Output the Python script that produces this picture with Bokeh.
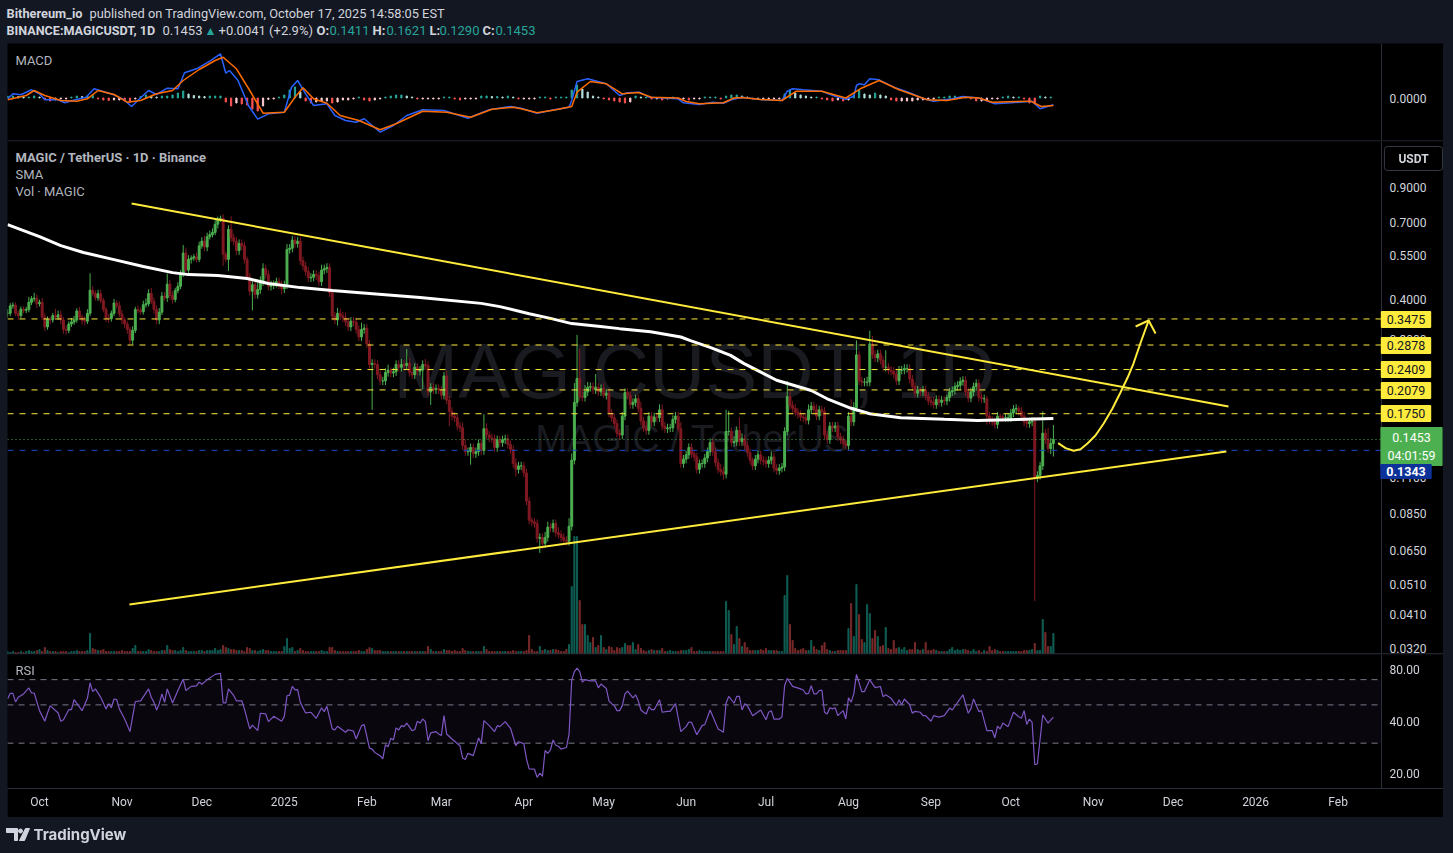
from bokeh.embed import file_html
from bokeh.resources import INLINE
from bokeh.plotting import figure
from bokeh.layouts import column
from bokeh.models import (Range1d, LinearScale, LinearAxis, Span, Label, BoxAnnotation, FixedTicker,
                          PrintfTickFormatter, ColumnDataSource)

# ---- candle closes, one per day, first value is 19 Sep 2024 (day -12; day 0 = 1 Oct 2024)
closes = [
 .362,.382,.384,.362,.356,.373,.370,.372,.392,.402,
 .404,.388,.392,.352,.328,.347,.345,.356,.352,.358,
 .345,.322,.320,.335,.340,.345,.368,.352,.344,.342,
 .362,.428,.418,.405,.417,.397,.372,.350,.348,.362,
 .390,.383,.360,.345,.335,.322,.298,.320,.372,.370,
 .366,.385,.388,.418,.395,.372,.345,.365,.410,.405,
 .447,.412,.400,.427,.440,.480,.560,.495,.535,.540,
 .545,.535,.590,.610,.585,.630,.640,.650,.690,.715,
 .720,.555,.535,.665,.625,.610,.570,.600,.590,.535,
 .470,.425,.445,.415,.430,.455,.500,.480,.440,.445,
 .450,.455,.445,.432,.445,.575,.580,.615,.600,.610,
 .530,.510,.490,.468,.470,.480,.475,.455,.495,.500,
 .505,.420,.355,.345,.362,.355,.350,.340,.328,.342,
 .340,.322,.305,.322,.325,.290,.250,.252,.250,.232,
 .222,.222,.236,.240,.235,.237,.250,.245,.250,.248,
 .252,.236,.232,.245,.238,.240,.250,.248,.205,.212,
 .208,.210,.208,.200,.230,.193,.178,.172,.170,.160,
 .158,.139,.133,.133,.137,.131,.133,.141,.134,.157,
 .150,.147,.146,.137,.145,.142,.145,.146,.140,.135,
 .122,.117,.120,.120,.114,.093,.081,.080,.079,.071,
 .0715,.0685,.0715,.077,.0765,.079,.074,.073,.0715,.070,
 .0695,.0775,.125,.190,.226,.198,.197,.205,.212,.213,
 .208,.212,.205,.210,.200,.203,.176,.170,.163,.152,
 .150,.172,.204,.200,.187,.190,.195,.182,.166,.158,
 .155,.172,.165,.171,.170,.180,.160,.157,.158,.158,
 .168,.172,.157,.122,.126,.130,.137,.131,.128,.117,
 .122,.122,.127,.133,.142,.133,.123,.117,.115,.113,
 .154,.154,.142,.143,.155,.143,.146,.139,.132,.125,
 .120,.126,.130,.125,.124,.122,.125,.128,.118,.116,
 .118,.119,.154,.198,.186,.182,.177,.174,.171,.170,
 .167,.180,.185,.180,.172,.180,.178,.150,.145,.160,
 .158,.160,.148,.145,.141,.139,.172,.165,.183,.268,
 .222,.220,.220,.220,.290,.268,.262,.270,.258,.245,
 .245,.240,.238,.233,.222,.240,.240,.243,.243,.225,
 .213,.203,.208,.205,.208,.199,.192,.190,.187,.194,
 .190,.193,.192,.197,.205,.207,.213,.215,.221,.223,
 .205,.196,.205,.213,.218,.197,.195,.195,.172,.167,
 .165,.162,.172,.171,.170,.170,.170,.176,.181,.182,
 .178,.172,.165,.163,.165,.166,.110,.112,.120,.152,
 .145,.136,.1411,.1453]
# upper wick above the body, per cent, read per candle (20 per row)
wick_up = [
 3,2,2,2,2,2,2,2,4,2,4,3,2,3,3,2,2,2,5,3,
 3,2,3,2,3,3,2,3,2,3,3,13,3,2,3,3,2,2,3,2,
 3,2,3,3,2,2,2,3,2,3,2,3,4,3,4,3,3,3,3,3,
 8,3,3,2,3,3,6,4,3,2,2,3,3,3,4,3,3,3,3,2,
 2,3,2,3,10,3,3,3,3,3,2,3,3,3,5,4,4,3,3,3,
 2,3,3,3,3,4,3,3,3,3,3,3,3,3,3,3,3,3,4,3,
 3,3,3,3,4,3,3,4,3,3,3,3,3,5,3,3,3,3,3,3,
 3,3,3,4,2,3,3,3,4,3,11,4,3,3,3,3,3,4,3,3,
 3,3,3,3,3,4,3,3,3,3,3,4,5,3,3,3,3,3,3,11,
 4,3,3,3,3,3,3,3,3,3,3,4,3,3,3,3,3,2,3,3,
 3,3,4,4,3,3,3,4,3,3,3,6,5,15,37,24,6,5,4,3,
 3,10,3,3,4,3,3,3,3,3,3,3,3,3,3,3,3,3,5,3,
 5,3,3,3,3,4,4,3,3,3,3,3,3,5,3,3,3,3,3,3,
 3,3,3,3,3,3,3,3,4,4,17,16,3,4,3,10,4,3,3,3,
 2,3,3,3,3,3,3,4,3,3,3,3,3,12,4,3,3,3,3,3,
 3,4,3,3,4,3,3,3,3,3,3,3,3,3,3,3,3,13,4,11,
 3,3,3,4,10,6,3,3,3,3,13,3,3,3,3,3,3,3,3,3,
 3,3,3,2,3,3,3,3,4,3,3,3,3,2,3,3,3,3,3,3,
 3,3,3,3,3,3,3,3,2,3,3,3,3,2,2,3,3,3,3,3,
 2,3,3,3,3,3,3,3,3,17,3,9,4,11]
# lower wick below the body, per cent, read per candle (20 per row)
wick_dn = [
 3,2,2,2,3,2,2,2,2,2,2,3,2,2,3,2,3,2,2,2,
 3,3,3,2,2,2,2,2,3,3,2,2,2,2,2,2,2,3,3,2,
 2,2,2,3,3,3,3,3,2,2,2,2,2,2,2,3,3,3,2,2,
 3,3,3,2,2,2,2,2,3,3,2,2,2,2,3,3,2,2,2,3,
 2,8,2,8,3,3,3,3,3,3,2,3,13,3,3,3,3,3,3,3,
 3,3,3,4,3,3,3,3,3,3,3,3,3,3,3,3,3,3,3,3,
 3,3,3,3,4,3,3,3,3,3,3,3,3,3,3,3,3,28,3,3,
 3,3,3,3,3,3,3,3,3,3,3,3,3,3,3,3,13,3,3,9,
 3,3,3,3,3,3,10,3,3,3,3,3,3,3,9,3,3,3,3,3,
 3,3,3,3,3,3,3,3,3,3,3,5,3,3,3,3,3,3,3,3,
 10,4,3,3,3,3,3,3,3,3,3,3,3,3,3,3,3,3,3,3,
 3,3,3,3,2,3,3,3,3,3,3,3,3,3,3,3,3,3,3,3,
 3,3,3,3,3,3,3,3,3,3,3,3,2,3,3,3,3,3,3,3,
 3,3,3,3,3,3,3,3,3,4,3,3,3,3,3,3,3,3,3,3,
 3,3,3,3,3,3,3,3,3,3,3,3,3,3,3,3,3,3,3,3,
 3,3,3,3,3,3,3,3,3,3,3,3,3,3,3,3,3,3,3,3,
 3,3,3,3,3,3,3,3,3,3,3,3,3,3,3,3,3,3,3,3,
 3,3,3,3,3,3,3,3,3,3,3,3,3,3,3,3,3,3,3,3,
 3,3,3,3,3,3,3,3,6,3,3,3,3,3,3,3,3,3,3,3,
 3,3,3,3,3,3,59,3,3,3,3,3,4,9]
# volume per candle (same order)
volumes = [
 3,2,3,2,2,3,2,3,4,3, 3,4,5,3,7,4,3,3,3,2,
 3,3,3,2,3,3,4,3,3,3, 4,21,6,5,4,4,5,3,3,3,
 3,3,3,4,3,3,3,6,9,3, 3,3,3,5,4,3,3,3,4,4,
 9,5,4,4,3,4,7,4,3,3, 3,3,4,4,3,4,4,4,6,4,
 5,9,7,6,5,5,4,4,4,3, 7,6,4,4,3,4,5,4,4,3,
 3,3,3,3,8,16,6,7,3,4, 6,4,3,3,3,3,3,3,4,3,
 3,7,7,4,3,3,3,3,3,3, 3,3,4,3,3,5,7,6,4,4,
 4,3,3,3,3,3,3,3,3,3, 3,3,3,3,3,3,3,3,8,5,
 3,3,3,3,5,4,4,3,4,3, 3,6,4,3,3,3,3,3,3,8,
 5,3,3,3,3,3,3,3,3,3, 4,3,3,3,3,4,19,5,3,3,
 8,4,5,4,4,5,5,4,3,3, 5,10,68,118,118,54,30,30,19,12,
 17,7,9,19,7,5,8,7,4,7, 6,7,11,9,9,12,5,10,6,4,
 3,4,5,4,4,4,6,3,3,4, 3,3,3,4,4,4,5,7,3,3,
 4,3,3,3,3,3,3,3,3,3, 53,44,20,10,28,16,8,12,7,4,
 4,4,4,5,4,6,4,4,4,4, 3,3,59,79,30,14,6,4,5,6,
 4,4,14,8,5,4,9,12,5,4, 3,3,4,4,4,4,26,51,18,70,
 40,15,12,50,41,16,24,18,8,9, 27,6,5,14,6,7,5,7,4,5,
 5,12,5,4,5,12,4,4,5,4, 3,3,3,3,5,7,4,5,4,5,
 5,4,3,5,3,4,2,4,3,8, 4,5,4,3,3,3,3,3,3,3,
 3,3,4,4,4,5,11,4,4,35, 22,8,8,21]

# 200-day SMA
sma_days = [-12,0,8,16.5,28,39,50,56,67,78,86,98,110,124,143,166,173,184,192,200,210.8,218,229.6,241,244.6,252,259.7,264.6,277,290,296,305,312,323.6,340,352.5,381]
sma_vals = [.688,.631,.591,.562,.534,.508,.486,.479,.476,.466,.449,.436,.427,.418,.406,.389,.380,.361,.349,.336,.329,.324,.317,.305,.297,.283,.267,.252,.223,.207,.195,.182,.175,.170,.168,.1666,.169]

# Drawn trend lines and projected arrow
upper_days, upper_vals = [34.6, 446.8], [.8016, .1844]
lower_days, lower_vals = [33.8, 446.0], [.0440, .1332]
arrow_days = [382.8,385.6,388.6,391.2,393.8,396.8,399.9,403.2,406.2,408.9,411.1,413.8,416.8]
arrow_vals = [.1414,.1364,.1338,.1354,.1411,.1495,.1631,.1818,.2040,.2274,.2517,.2930,.3436]
head_days = [411.9, 416.8, 419.4]
head_vals = [.3291, .3436, .3127]
levels = [0.3475, 0.2878, 0.2409, 0.2079, 0.1750]
level_labels = ["0.3475", "0.2878", "0.2409", "0.2079", "0.1750"]
last_price, last_low_line = 0.1453, 0.1343

# MACD
macd_days = [-12,-10,-7,-3,0,2,7,9.5,13.5,17.5,20.5,23.6,28,31.6,34.6,37.6,41,44,48,52,54.5,59,64,68,70,71.4,74.6,78.5,82,86,92,94.7,97,100,103,108,111,115,119,122,128,133,138,144,152,161,169,177,
 181,187,194,199,200,202,206,213,218,221,225.5,229,234,240,242,248,253,257,260,264,271.5,279,281,283,287,294,299,303,306,307,308,310,312,315.5,321,326.5,332.3,336,343,347,353,359,365,373,376,381]
macd_vals = [-.0008,.0042,.0032,.0082,.0042,-.0018,-.0018,-.0048,-.0018,.0008,.0092,.0068,.0032,-.0015,-.0085,-.0008,.0075,.0035,.0098,.0092,.0252,.0292,.0368,.0442,.0248,.0275,.0175,-.0075,-.0212,-.0158,-.0142,.0108,.0175,.0042,-.0075,-.0058,-.0175,-.0225,-.0242,-.0208,-.0342,-.0275,-.0175,-.0118,-.0125,-.0202,-.0118,-.0085,
 -.0102,-.0152,-.0115,-.0092,-.0025,.0165,.0192,.0142,.0025,.0052,.0058,.0008,0,-.0008,-.0048,-.0065,-.0042,-.0052,-.0018,.0008,-.0018,-.0025,.0068,.0092,.0082,.0068,.0018,-.0012,.0018,.0125,.0142,.0132,.0192,.0182,.0108,.0058,-.0008,-.0032,-.0008,.0015,0,-.0058,-.0048,-.0032,-.0108,-.0068]
signal_days = [-12,-5,-2,2,8,14,18,22,28,33,38,44,50,54,60,66,69,74,79,84,92,96,99,103,108,113,120,128,134,144,153,162,170,178,
 181,187,194,200,202,207,213,219,225,230,240,243,248,257,261,264,271,279,284.4,294,303,308.4,315.5,323,333.6,341,348,353,358,372.5,376.4,381]
signal_vals = [-.0018,.0025,.0075,.0025,-.0025,-.0032,-.0008,.0075,.0035,-.0042,-.0025,.0042,.0075,.0175,.0285,.0375,.0408,.0292,.0075,-.0152,-.0142,.0008,.0102,-.0008,-.0052,-.0175,-.0225,-.0318,-.0258,-.0132,-.0142,-.0192,-.0112,-.0092,
 -.0108,-.0148,-.0118,-.0085,.0058,.0165,.0142,.0042,.0055,.0008,0,-.0035,-.0058,-.0048,0,.0005,-.0015,-.0025,.0068,.0068,0,.0092,.0175,.0082,-.0018,-.0025,.0008,0,-.0042,-.0032,-.0085,-.0075]
# MACD histogram, one bar every second day from day -12, in thousandths
hist_vals = [
 2,2,1.5,1,1,2,1,-1.5,-3,-2, -1,-1,1,2,1.5,2,2.5,-1,-2,-2.5,
 -2,-2,-3,-4,-1,1.5,3,2,1,2, 2,3,5,7,4,2.5,2,1.5,2,2,
 2,-4,-8,-5,-6,-7,-11,-13,-8,-1.5, -1,1,3,8,11,6,-3,-5,-4,-3,
 -3,-5,-4,-2,-2,-1,1,-2,-3,-2, -1,1,2,3,3,2,1,-1,-1,-1,
 -1,-1,1,1,-1,-2,-1,-1,-1,2, 2,1.5,1.5,1,2,1,-1,-1,-1,-1,
 1,1,-1,1,1,1,8,13,9,6, 2,1,-1,-2,-3,-4,-5,-4,2,1,
 1,-1,-1,-2,-1,1,-1,-1,-2,-1, -1,1,1,1,-1,2,3,3,2,1,
 -1,-1,-1,-1,-1,-1,4,8,5,3, 2,1,1,-1,-2,-3,-2,-3,-2,3,
 8,4,3,5,3,2,-2,-3,-3,-3, -3,-2,-2,-1,-1,1,1,2,2,1,
 1,-1,-3,-3,-2,-1,-1,1,2,1, 1,-1,-5,-6,2,1,1]

# RSI
rsi_days = [-12,-11,-10,-9,-8,-6,-4,-3,-2,0,2,3,4,7,8,9,11,12,13,16,18,19,20,21,23,25,26,27,28,29,30,31,32,34,36,38,41,42,43,44,45,46,47,48,50,52,54,55,57,59,60,61,63,66,68,69,70,71,73,74,76,77,79,80,82,83,85,86,88,91,92,93,94,95,96,97,98,100,102,104,106,107,108,110,111,112,115,116,118,119,121,122,124,125,126,128,129,130,131,132,133,134,135,136,137,138,140,141,142,143,144,145,146,147,149,150,151,152,153,155,158,159,160,161,163,165,166,167,169,171,172,173,175,177,179,180,182,183,184,
 186,187,188,189,190,191,192,193,194,195,196,198,199,200,201,202,203,204,205,207,209,210,211,213,214,215,216,217,218,219,220,221,223,224,225,226,227,228,229,230,231,233,234,236,237,239,241,243,244,245,247,249,250,252,255,256,257,258,259,261,262,263,264,265,266,268,271,273,274,275,276,278,279,280,281,283,286,287,288,289,290,291,292,293,294,295,296,297,298,299,300,302,303,304,305,306,307,309,310,312,314,316,317,318,320,322,323,324,325,327,328,329,331,332,333,335,336,338,340,342,343,347,349,350,351,353,354,356,358,359,360,361,362,364,366,368,369,370,371,372,373,374,375,377,379,381]
rsi_vals = [54,58.3,58.3,52,55.3,57.9,62.7,58.6,58.6,46.3,40.2,44.9,49.5,44.9,40.2,41,46.9,46.9,53.6,46.3,54.6,67,59.7,61.9,55.3,47.4,50.8,48.1,54.1,53.6,47.4,44.3,41.4,35,52.3,52.8,61.9,55.3,51.7,46.7,50.8,57.9,51.7,61.9,51.3,60.5,70.6,60.5,64,64.5,67.7,65.8,69.8,75.1,76.2,51.3,51.3,61.9,56.5,52.8,52.8,47.4,36.3,38.2,35.5,44.7,44.3,40,42.9,40.2,42.9,56.5,57,64,61,61.3,51.7,44.9,45.3,41.8,48.1,45.7,49,36.3,35.8,37.6,34.7,35.9,35.2,31.7,37.9,38.4,28.1,27.7,26.5,25.4,24.3,29.4,28.6,32,31.3,36.8,35.8,37.9,37.4,39.2,35.5,35.9,40.2,39.2,41.4,40,31,34.4,35,33.9,33.2,43.3,33.9,31.7,29,24.6,24.1,26.2,25.4,32.2,29.8,40.5,37.9,35,37.9,37.4,40,36.6,29,30.6,29.8,24.3,21.3,
 21.2,19,20.1,19.3,27.2,26.2,27.4,31.3,29.2,28.8,27.7,28.3,33.9,69.6,78,81.6,78,67.7,70,68.8,68.8,62.7,66,62.2,52.8,50.8,49.5,46.3,46.3,49.5,57.9,60.1,54.9,57.2,52.8,46.7,45.3,44.3,48.8,46.9,46.9,53.6,45.3,45.9,45.9,50.8,35,37.4,39.8,39.6,33.6,37.9,38.4,46.7,36.3,35.5,34.7,51.1,56,51.1,56,56,46.7,50.8,49.5,43.3,46.7,41,45.3,46.3,41.4,41.4,42.5,64.5,71.2,64,61.9,61,57.9,58.3,64.5,57.9,57.9,60.5,61,45.3,44.3,48.1,47.4,48.1,43.3,46.3,41.4,54.9,51.9,57.9,75.1,59.7,59.7,69.8,63,63.9,55.8,57.2,54.6,49.5,53.6,50.1,54.1,50.1,44.7,45.9,45.3,43.3,43.3,40.2,43.3,42.5,43.3,47.9,46.7,57.2,44.7,47.4,54.1,45.7,46.3,35.5,35.5,32.2,37.6,36.3,39.3,37.4,45.3,42.7,41.8,46.3,38.5,41.4,39.6,22.5,22.8,43.7,39.2,42.5]

# Axis ticks
time_tick_days = [0,31,61,92,123,151,182,212,243,273,304,335,365,396,426,457,488]
time_tick_labels = ["Oct","Nov","Dec","2025","Feb","Mar","Apr","May","Jun","Jul","Aug","Sep","Oct","Nov","Dec","2026","Feb"]
price_ticks = [0.9,0.7,0.55,0.4,0.3,0.11,0.085,0.065,0.051,0.041,0.032]
rsi_ticks = [80,40,20]
macd_ticks = [0]

BG, PANE, GRID = "#131722", "#000000", "#2a2e39"
TXT = "#d1d4dc"
FONT = "Roboto"
UP, DOWN = "#4caf50", "#801922"
FW, FH_MACD, FH_MAIN, FH_RSI = 1436, 98, 513, 163
X0, X_AXIS, X1 = -12.03, 504.3, 527.6


def txt(p, fy, H, x, y, s, size=13, color=TXT, style="normal", align="left", fx=7, font=FONT, level="annotation", **kw):
    lab = Label(x=x - fx, y=H - (y - fy), x_units="screen", y_units="screen", text=s,
                text_font=font, text_font_size=f"{size}px", text_color=color, text_font_style=style,
                text_align=align, text_baseline="middle", level=level, **kw)
    p.add_layout(lab)
    return lab


def pane(h, ymin, ymax, scale="linear", bottom=0, xaxis=None):
    p = figure(width=FW, height=h, x_range=Range1d(X0, X1), y_range=Range1d(ymin, ymax),
               y_axis_type=scale, y_axis_location=None, x_axis_location=xaxis, output_backend="svg",
               toolbar_location=None, background_fill_color=PANE, border_fill_color=PANE,
               min_border_left=0, min_border_right=0, min_border_top=0, min_border_bottom=bottom,
               outline_line_color=None, margin=(0, 10, 0, 7))
    p.grid.visible = False
    ax = LinearAxis(fixed_location=X_AXIS, axis_line_color=GRID, major_tick_line_color=None,
                    minor_tick_line_color=None, major_tick_out=0, major_tick_in=0,
                    major_label_text_color=TXT, major_label_text_font=FONT,
                    major_label_text_font_size="12px", major_label_standoff=8)
    p.add_layout(ax, "right")
    return p, ax


def hline(p, value, color, dash, width=1):
    p.line([X0, X_AXIS], [value, value], line_color=color, line_width=width, line_dash=dash)


# ---- header
header = figure(width=1453, height=43, x_range=Range1d(0, 1453), y_range=Range1d(0, 43), output_backend="svg",
                toolbar_location=None, background_fill_color=BG, border_fill_color=BG, outline_line_color=None,
                min_border=0, x_axis_location=None, y_axis_location=None, margin=(0, 0, 0, 0))
header.grid.visible = False
hh = dict(p=header, fy=0, H=43, fx=0)
txt(x=6, y=13, s="Bithereum_io", style="bold", size=12.8, **hh)
txt(x=89, y=13, s="published on TradingView.com, October 17, 2025 14:58:05 EST", size=12.8, **hh)
txt(x=6, y=30, s="BINANCE:MAGICUSDT, 1D", style="bold", size=12.6, **hh)
txt(x=162, y=30, s="0.1453", **hh)
txt(x=204, y=30, s="▲", color="#26a69a", size=12, **hh)
txt(x=218, y=30, s="+0.0041 (+2.9%)", **hh)
for x, s in [(316, "O:"), (372, "H:"), (429, "L:"), (482, "C:")]:
    txt(x=x, y=30, s=s, style="bold", **hh)
for x, s in [(329, "0.1411"), (386, "0.1621"), (439, "0.1290"), (495, "0.1453")]:
    txt(x=x, y=30, s=s, color="#26a69a", **hh)

# ---- MACD
macd, macd_ax = pane(FH_MACD, -.0435, .0545)
macd_ax.ticker = FixedTicker(ticks=macd_ticks)
macd_ax.formatter = PrintfTickFormatter(format="%.4f")
macd.add_layout(Span(location=-.0430, dimension="width", line_color=GRID, line_width=1))
hist_days = [-12 + 2 * i for i in range(len(hist_vals))]
hist_cols = []
for i, v in enumerate(hist_vals):
    prev = hist_vals[i - 1] if i else v
    if v >= 0:
        hist_cols.append("#26a69a" if v >= prev else "#b2dfdb")
    else:
        hist_cols.append("#ffcdd2" if v >= prev else "#ff5252")
macd.vbar(x=hist_days, top=[v / 1000 for v in hist_vals], bottom=0, width=0.45, color=hist_cols)
macd.line(macd_days, macd_vals, line_color="#2962ff", line_width=1.5)
macd.line(signal_days, signal_vals, line_color="#ff6d00", line_width=1.5)
txt(macd, 43, FH_MACD, 15, 60, "MACD", color="#b2b5be")

# ---- price
main, main_ax = pane(FH_MAIN, .03063, 1.2555, scale="log")
main_ax.ticker = FixedTicker(ticks=price_ticks)
main_ax.formatter = PrintfTickFormatter(format="%.4f")
main.extra_y_ranges = {"vol": Range1d(0, FH_MAIN)}
main.extra_y_scales = {"vol": LinearScale()}

txt(main, 141, FH_MAIN, 694, 370, "MAGICUSDT, 1D", size=78, color="#1a1b20", align="center", font="Liberation Sans", level="underlay")
txt(main, 141, FH_MAIN, 692, 438, "MAGIC / TetherUS", size=38, color="#1a1b20", align="center", font="Liberation Sans", level="underlay")

days = list(range(-12, -12 + len(closes)))
opens = [closes[0]] + closes[:-1]
tops = [max(o, c) for o, c in zip(opens, closes)]
bots = [min(o, c) for o, c in zip(opens, closes)]
highs = [t * (1 + u / 100) for t, u in zip(tops, wick_up)]
lows = [b * (1 - d / 100) for b, d in zip(bots, wick_dn)]
cols = [UP if c >= o else DOWN for o, c in zip(opens, closes)]
vcols = ["#0f5e54" if c >= o else "#7a2a2a" for o, c in zip(opens, closes)]
src = ColumnDataSource(dict(x=days, o=opens, c=closes, top=tops, bot=bots, hi=highs, lo=lows, col=cols, vcol=vcols, v=volumes))

main.vbar(x="x", top="v", bottom=0, width=0.4, color="vcol", source=src, y_range_name="vol")
main.segment(x0="x", x1="x", y0="lo", y1="hi", line_color="col", line_width=1, source=src)
main.vbar(x="x", top="top", bottom="bot", width=0.72, color="col", source=src)
main.line(sma_days, sma_vals, line_color="#ffffff", line_width=3)
for lv in levels:
    hline(main, lv, "#ffeb3b", [6, 6])
hline(main, last_low_line, "#1848cc", [6, 6])
hline(main, last_price, "#4caf50", [1, 3])
main.line(upper_days, upper_vals, line_color="#ffeb3b", line_width=2)
main.line(lower_days, lower_vals, line_color="#ffeb3b", line_width=2)
main.line(arrow_days, arrow_vals, line_color="#ffeb3b", line_width=2)
main.line(head_days, head_vals, line_color="#ffeb3b", line_width=2)
main.add_layout(Span(location=.0308, dimension="width", line_color=GRID, line_width=1))

txt(main, 141, FH_MAIN, 15, 157, "MAGIC / TetherUS · 1D · Binance", style="bold", color="#b2b5be")
txt(main, 141, FH_MAIN, 15, 174, "SMA", color="#b2b5be")
txt(main, 141, FH_MAIN, 15, 191, "Vol · MAGIC", color="#b2b5be")
txt(main, 141, FH_MAIN, 1413, 158, "USDT", size=12, style="bold", align="center", color=TXT,
    background_fill_color="#000000", border_line_color="#363a45", padding=(14, 5), border_radius=3)
for s, y in zip(level_labels, [319, 345, 369, 390, 413]):
    txt(main, 141, FH_MAIN, 1405.5, y, s, size=12.5, color="#131722", align="center",
        background_fill_color="#ffeb3b", padding=(6, 4), border_radius=1)
txt(main, 141, FH_MAIN, 1411, 446, "0.1453\n04:01:59", size=12.5, color="#ffffff", align="center",
    background_fill_color="#4caf50", padding=(7, 3), border_radius=1)
txt(main, 141, FH_MAIN, 1405.5, 471, "0.1343", size=12.5, color="#ffffff", style="bold", align="center",
    background_fill_color="#0c3299", padding=(6, 3), border_radius=1)

# ---- RSI and time axis (screen positions of labels count from the frame's bottom)
rsi, rsi_ax = pane(FH_RSI, 16.39, 97.9, scale="log", bottom=29, xaxis="below")
rsi_ax.ticker = FixedTicker(ticks=rsi_ticks)
rsi_ax.formatter = PrintfTickFormatter(format="%.2f")
rsi.add_layout(BoxAnnotation(bottom=30, top=70, right=X_AXIS, fill_color="#7e57c2", fill_alpha=0.07, line_color=None))
for lv in (70, 50, 30):
    hline(rsi, lv, "#787b86", [6, 5])
rsi.line(rsi_days, rsi_vals, line_color="#7e57c2", line_width=1.2)
ax = rsi.xaxis[0]
ax.ticker = FixedTicker(ticks=time_tick_days)
ax.major_label_overrides = dict(zip(time_tick_days, time_tick_labels))
ax.axis_line_color = GRID
ax.major_tick_line_color = None
ax.minor_tick_line_color = None
ax.major_tick_out = 0
ax.major_tick_in = 0
ax.major_label_text_color = TXT
ax.major_label_text_font = FONT
ax.major_label_text_font_size = "12px"
ax.major_label_standoff = 6
txt(rsi, 654, FH_RSI - 29, 15, 670, "RSI", color="#b2b5be")

# ---- footer with logo
footer = figure(width=1453, height=36, x_range=Range1d(0, 1453), y_range=Range1d(36, 0), output_backend="svg",
                toolbar_location=None, background_fill_color=BG, border_fill_color=BG, outline_line_color=None,
                min_border=0, x_axis_location=None, y_axis_location=None, margin=(0, 0, 0, 0))
footer.grid.visible = False
footer.patch([6, 17, 17, 14, 14, 9, 9, 6], [11, 11, 23, 23, 14, 14, 14, 14], color=TXT)
footer.patch([6, 14, 14, 6], [11, 11, 15, 15], color=TXT)
footer.circle([20], [13.5], radius=2, color=TXT)
footer.patch([25, 29, 24, 19], [11, 11, 23, 23], color=TXT)
txt(footer, 817, 36, 33, 834, "TradingView", size=15, style="bold", fx=0, font="Inter")

root = column(header, macd, main, rsi, footer, spacing=0, width=1453, height=853, sizing_mode="fixed",
              styles={"position": "fixed", "left": "0px", "top": "0px", "background-color": BG})

open("out.html", "w").write(file_html(root, INLINE))
